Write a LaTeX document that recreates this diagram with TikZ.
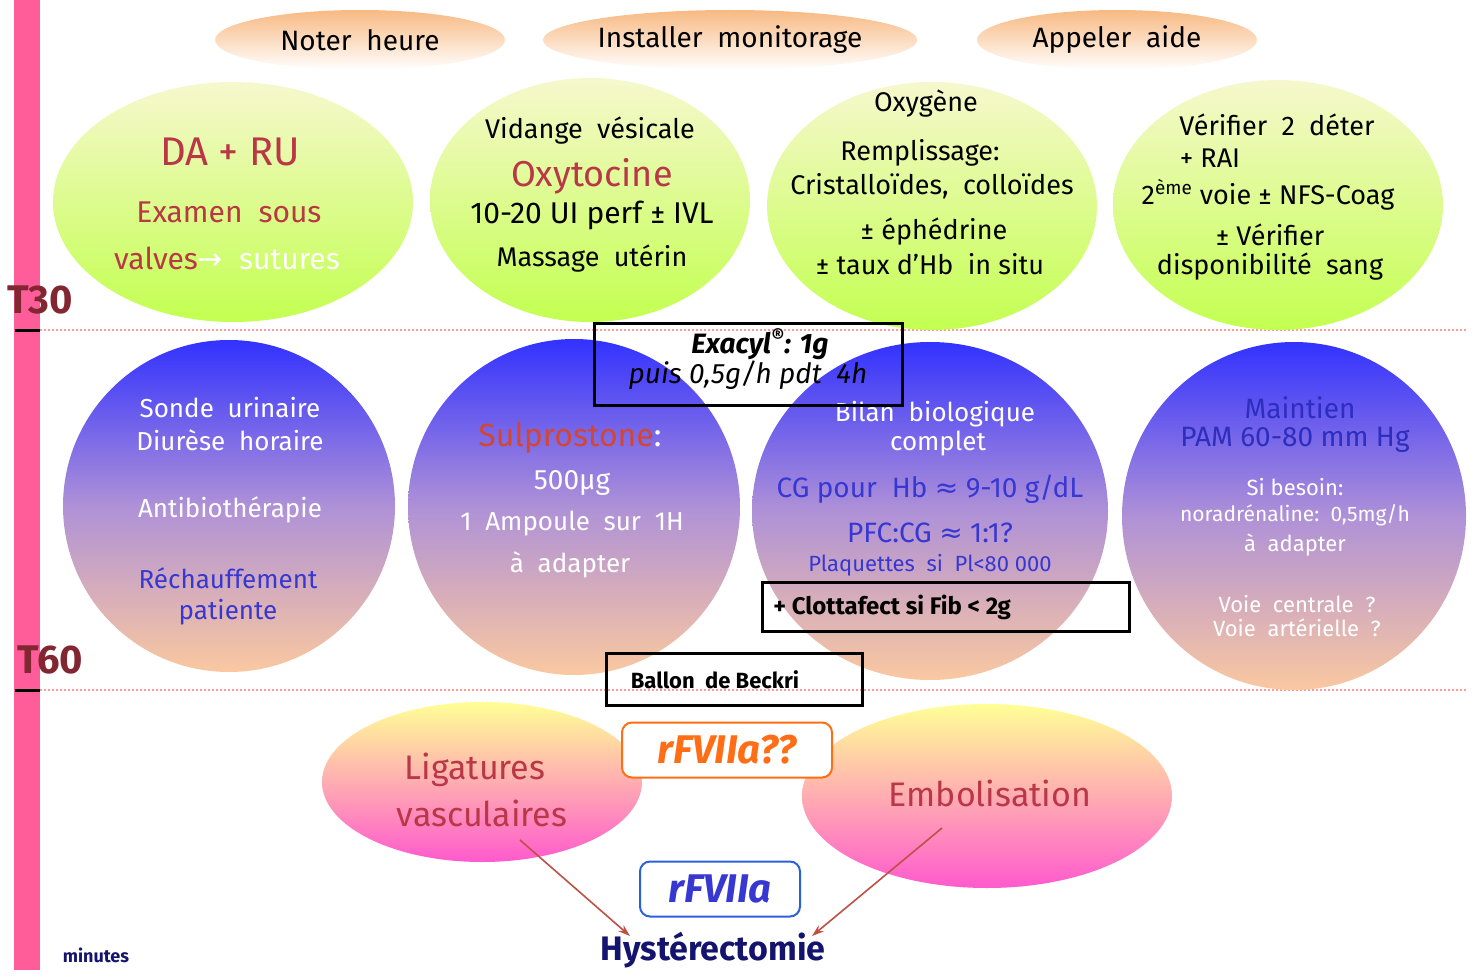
\documentclass[tikz,border=0pt]{standalone}
\usepackage{fontspec}
\setmainfont{Fira Sans}
\newfontfamily\sym{DejaVu Sans}
\usetikzlibrary{shapes.geometric,arrows.meta}
\definecolor{pinkbar}{RGB}{255,92,154}
\definecolor{peach}{RGB}{248,185,130}
\definecolor{gtop}{RGB}{246,248,205}
\definecolor{gbot}{RGB}{195,255,80}
\definecolor{btop}{RGB}{50,50,255}
\definecolor{bmid}{RGB}{175,145,215}
\definecolor{bbot}{RGB}{250,200,160}
\definecolor{ytop}{RGB}{255,255,150}
\definecolor{mbot}{RGB}{255,90,205}
\definecolor{dred}{RGB}{185,55,70}
\definecolor{sred}{RGB}{210,70,50}
\definecolor{tblue}{RGB}{55,55,210}
\definecolor{dblue}{RGB}{45,45,190}
\definecolor{navy}{RGB}{20,20,110}
\definecolor{orng}{RGB}{255,110,20}
\definecolor{arrowc}{RGB}{190,80,70}
\newcommand\fsz[1]{\fontsize{#1}{#1}\selectfont}
\begin{document}
\begin{tikzpicture}[x=0.5pt,y=-0.5pt,
  topell/.style={ellipse,inner sep=0,minimum height=30pt,top color=peach,bottom color=white,font=\fsz{14}},
  gell/.style={ellipse,inner sep=0,top color=gtop,bottom color=gbot},
  bell/.style={ellipse,inner sep=0,top color=btop,bottom color=bbot,middle color=bmid},
  mell/.style={ellipse,inner sep=0,top color=ytop,bottom color=mbot},
  txt/.style={inner sep=0,font=\fsz{13.5}},
  wtxt/.style={txt,text=white},
  frame/.style={draw=black,line width=1.5pt,inner sep=0},
  rbox/.style={draw,rounded corners=5pt,line width=1pt,inner sep=0},
  conn/.style={draw=arrowc,line width=0.8pt,-{Stealth[length=6pt,width=4pt]}},
  tlabel/.style={inner sep=0,font=\fsz{20}\bfseries,text=dred!70!black}]
\useasboundingbox (0,0) rectangle (1478,979);
% time bar
\fill[pinkbar] (14,0) rectangle (40,970);
\draw[pink!80!red,dash pattern=on 1pt off 1pt,line width=0.8pt] (40,330) -- (1468,330);
\draw[pink!80!red,dash pattern=on 1pt off 1pt,line width=0.8pt] (40,690) -- (1468,690);
\draw[line width=1.5pt] (15,330) -- (40,330);
\draw[line width=1.5pt] (15,690) -- (40,690);
\node[tlabel] (t30) at (40,300) {T30};
\node[tlabel] (t60) at (50,660) {T60};
\node[inner sep=0,font=\fsz{9}\bfseries,text=navy] (minutes) at (96,955) {minutes};
% top ellipses
\node[topell,minimum width=145pt] (noter) at (360,40) {Noter\ \ heure};
\node[topell,minimum width=170pt] (install) at (730,40) {Installer\ \ monitorage};
\node[topell,minimum width=140pt] (appel) at (1117,40) {Appeler\ \ aide};
% row 1
\node[gell,minimum width=180pt,minimum height=120pt] (g1) at (233,202) {};
\node[gell,minimum width=160pt,minimum height=122pt] (g2) at (590,200) {};
\node[gell,minimum width=165pt,minimum height=124pt] (g3) at (932,206) {};
\node[gell,minimum width=165pt,minimum height=125pt] (g4) at (1278,205) {};
\node[txt,font=\fsz{20},text=dred] (t11) at (230,152) {DA + RU};
\node[txt,font=\fsz{15},text=dred] (t12) at (229,212) {Examen\ \ sous};
\node[txt,font=\fsz{15}] (t13) at (227,258) {\textcolor{dred}{valves}{\sym\color{white}→}\ \ \textcolor{white}{sutures}};
\node[txt] (t21) at (590,131) {Vidange\ \ vésicale};
\node[txt,font=\fsz{18},text=dred] (t22) at (592,176) {Oxytocine};
\node[txt,font=\fsz{15}] (t23) at (592,215) {10-20 UI perf ± IVL};
\node[txt] (t24) at (592,259) {Massage\ \ utérin};
\node[txt] (t31) at (926,104) {Oxygène};
\node[txt] (t32) at (920,153) {Remplissage:};
\node[txt] (t33) at (932,186) {Cristalloïdes,\ \ colloïdes};
\node[txt] (t34) at (934,232) {± éphédrine};
\node[txt] (t35) at (930,264) {± taux d'Hb\ \ in situ};
\node[txt] (t41) at (1277,125) {Vérifier\ \ 2\ \ déter};
\node[txt] (t42) at (1210,158) {+ RAI};
\node[txt] (t43) at (1268,195) {2\textsuperscript{ème} voie ± NFS-Coag};
\node[txt] (t44) at (1270,235) {± Vérifier};
\node[txt] (t45) at (1270,267) {disponibilité\ \ sang};
% row 2
\node[bell,minimum width=166pt,minimum height=166pt] (b1) at (229,506) {};
\node[bell,minimum width=166pt,minimum height=168pt] (b2) at (574,507) {};
\node[bell,minimum width=178pt,minimum height=169pt] (b3) at (930,511) {};
\node[bell,minimum width=172pt,minimum height=174pt] (b4) at (1294,516) {};
\node[wtxt,font=\fsz{13}] (s11) at (230,408) {Sonde\ \ urinaire};
\node[wtxt,font=\fsz{13}] (s12) at (230,440) {Diurèse\ \ horaire};
\node[wtxt,font=\fsz{13}] (s13) at (230,510) {Antibiothérapie};
\node[txt,font=\fsz{13},text=tblue] (s14) at (228,578) {Réchauffement};
\node[txt,font=\fsz{13},text=tblue] (s15) at (228,612) {patiente};
\node[txt,font=\fsz{16},text=sred] (s21) at (570,438) {Sulprostone\textcolor{white}{:}};
\node[wtxt,font=\fsz{14}] (s22) at (572,483) {500µg};
\node[wtxt,font=\fsz{13}] (s23) at (572,524) {1\ \ Ampoule\ \ sur\ \ 1H};
\node[wtxt,font=\fsz{13}] (s24) at (570,565) {à\ \ adapter};
\node[wtxt,font=\fsz{13}] (s31) at (935,414) {Bilan\ \ biologique};
\node[wtxt,font=\fsz{13}] (s32) at (938,444) {complet};
\node[txt,font=\fsz{14},text=tblue] (s33) at (930,489) {CG pour\ \ Hb {\sym≈} 9-10 g/dL};
\node[txt,font=\fsz{14},text=tblue] (s34) at (930,533) {PFC:CG {\sym≈} 1:1?};
\node[txt,font=\fsz{11},text=tblue] (s35) at (930,565) {Plaquettes\ \ si\ \ Pl<80 000};
\node[txt,font=\fsz{14},text=dblue] (s41) at (1300,408) {Maintien};
\node[txt,font=\fsz{14},text=dblue] (s42) at (1295,440) {PAM 60-80 mm Hg};
\node[wtxt,font=\fsz{11}] (s43) at (1295,487) {Si besoin:};
\node[wtxt,font=\fsz{10.5}] (s44) at (1295,515) {noradrénaline:\ \ 0,5mg/h};
\node[wtxt,font=\fsz{11}] (s45) at (1295,545) {à\ \ adapter};
\node[wtxt,font=\fsz{11}] (s46) at (1297,604) {Voie\ \ centrale\ \ ?};
\node[wtxt,font=\fsz{11}] (s47) at (1297,628) {Voie\ \ artérielle\ \ ?};
% boxes
\node[frame,minimum width=154pt,minimum height=41pt] (exacyl) at (748,364) {};
\node[txt,font=\fsz{14}\bfseries\itshape] (ex1) at (760,344) {Exacyl\textsuperscript{®}: 1g};
\node[txt,font=\fsz{14}\itshape] (ex2) at (748,375) {puis 0,5g/h pdt\ \ 4h};
\node[frame,minimum width=183.5pt,minimum height=24.5pt] (clotta) at (946,607) {};
\node[txt,font=\fsz{12}\bfseries,anchor=west] (clt) at (773,607) {+ Clottafect si Fib < 2g};
\node[frame,minimum width=128pt,minimum height=26pt] (beckri) at (734,679) {};
\node[txt,font=\fsz{11}\bfseries] (bkt) at (715,680) {Ballon\ \ de Beckri};
% row 3
\node[mell,minimum width=160pt,minimum height=80pt] (lig) at (482,782) {};
\node[mell,minimum width=185pt,minimum height=92pt] (embo) at (987,796) {};
\node[txt,font=\fsz{17},text=dred] (l1) at (475,770) {Ligatures};
\node[txt,font=\fsz{17},text=dred] (l2) at (482,813) {vasculaires};
\node[txt,font=\fsz{17},text=dred] (e1) at (990,793) {Embolisation};
\node[rbox,draw=orng,fill=white,minimum width=105pt,minimum height=27.5pt,font=\fsz{20}\bfseries\itshape,text=orng] (rfq) at (727,750) {rFVIIa??};
\node[rbox,draw=tblue!80!cyan,fill=white,minimum width=80pt,minimum height=27.5pt,font=\fsz{20}\bfseries\itshape,text=tblue] (rf) at (720,889) {rFVIIa};
\node[txt,font=\fsz{17}\bfseries,text=navy] (hyst) at (713,950) {Hystérectomie};
\coordinate (la) at (520,840);
\coordinate (ea) at (942,828);
\coordinate (h1) at (630,936);
\coordinate (h2) at (812,936);
\draw[conn] (la) -- (h1);
\draw[conn] (ea) -- (h2);
\end{tikzpicture}
\end{document}
